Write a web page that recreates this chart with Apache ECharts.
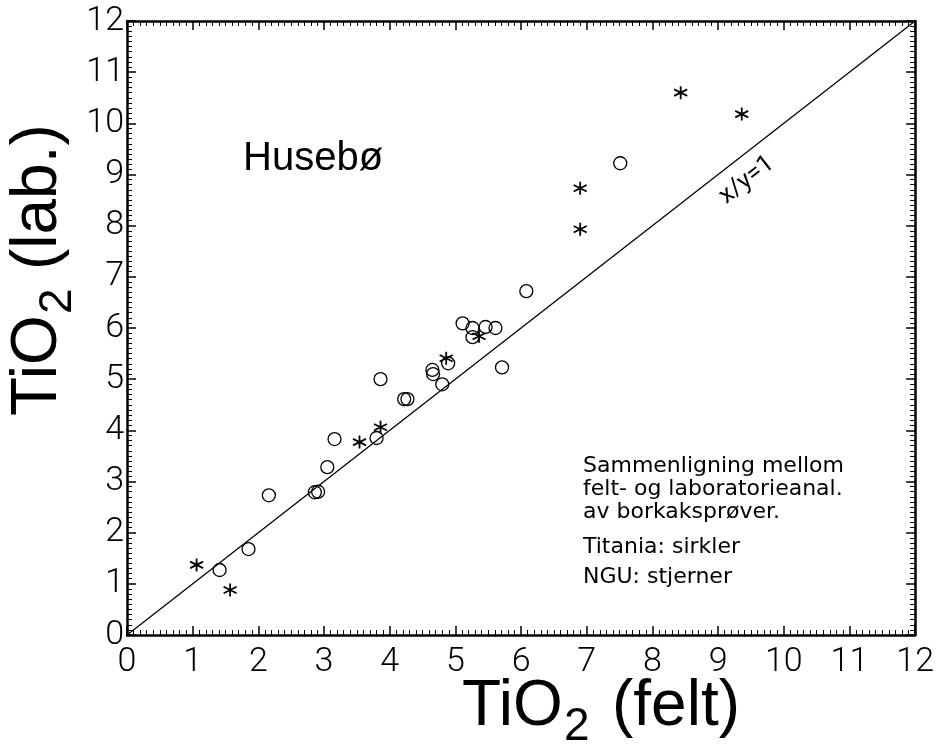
<!DOCTYPE html>
<html lang="no">
<head>
<meta charset="UTF-8">
<title>TiO2 felt / lab. - Husebø</title>
<script src="https://cdn.jsdelivr.net/npm/echarts@6/dist/echarts.min.js"></script>
<style>
  html, body { margin: 0; padding: 0; background: #fff; }
  #chart { width: 937px; height: 747px; }
</style>
</head>
<body>
<div id="chart"></div>
<script>
// Titania (sirkler): [felt, lab.]
var titania = [
  [1.41, 1.27], [1.85, 1.68], [2.16, 2.73], [2.86, 2.79], [2.91, 2.80],
  [3.05, 3.28], [3.16, 3.83], [3.80, 3.85], [3.86, 5.00], [4.22, 4.61],
  [4.27, 4.61], [4.65, 5.18], [4.66, 5.10], [4.80, 4.90], [4.89, 5.31],
  [5.11, 6.09], [5.26, 6.00], [5.26, 5.82], [5.46, 6.02], [5.61, 6.00],
  [5.71, 5.23], [6.08, 6.72], [7.51, 9.22]
];
// NGU (stjerner)
var ngu = [
  [1.06, 1.37], [1.57, 0.88], [3.54, 3.77], [3.86, 4.06], [4.86, 5.41],
  [5.36, 5.84], [6.90, 7.93], [6.90, 8.73], [8.43, 10.60], [9.36, 10.18]
];
// linja x/y=1
var refLine = [[0, 0], [12, 12]];
var refLabelPos = [[9.44, 8.89]];
var notes = [
  'Sammenligning mellom',
  'felt- og laboratorieanal.',
  'av borkaksprøver.',
  'Titania: sirkler',
  'NGU: stjerner'
];

var chart = echarts.init(document.getElementById('chart'));

var tickFont = { fontFamily: 'Roboto', fontWeight: 300, fontSize: 34, color: '#000' };
var star = 'path://M0,-1L0,1M-0.87,-0.5L0.87,0.5M-0.87,0.5L0.87,-0.5';

function frameAxis(pos, showLabel) {
  return {
    type: 'value', min: 0, max: 12, interval: 1, position: pos,
    axisLine: { show: true, onZero: false, lineStyle: { color: '#000', width: 2.5 } },
    axisTick: { show: true, inside: true, length: 9, lineStyle: { color: '#000', width: 1.5 } },
    minorTick: { show: true, splitNumber: 10, length: 5, lineStyle: { color: '#000', width: 1 } },
    axisLabel: showLabel ? tickFont : { show: false },
    splitLine: { show: false }
  };
}

var xBottom = frameAxis('bottom', true);
xBottom.axisLabel = Object.assign({ margin: 10 }, tickFont);
var yLeft = frameAxis('left', true);
yLeft.axisLabel = Object.assign({ margin: 3 }, tickFont);

var noteY = [467, 490, 513, 548, 578];
var noteTexts = notes.map(function (t, i) {
  return {
    type: 'text', left: 583, top: noteY[i] - 12,
    style: { text: t, font: '22px "DejaVu Sans"', fill: '#000' }
  };
});

var option = {
  animation: false,
  backgroundColor: '#fff',
  grid: { left: 127, right: 20, top: 21, bottom: 112 },
  xAxis: [xBottom, frameAxis('top', false)],
  yAxis: [yLeft, frameAxis('right', false)],
  series: [
    {
      name: 'x/y=1', type: 'line', data: refLine, symbol: 'none', silent: true,
      lineStyle: { color: '#000', width: 1.3 }
    },
    {
      name: 'Titania', type: 'scatter', data: titania, symbol: 'circle', symbolSize: 13,
      itemStyle: { color: 'rgba(0,0,0,0)', borderColor: '#000', borderWidth: 1.3, opacity: 1 }
    },
    {
      name: 'NGU', type: 'scatter', data: ngu, symbol: star, symbolSize: 13,
      itemStyle: { color: 'rgba(0,0,0,0)', borderColor: '#000', borderWidth: 1.8, opacity: 1 }
    },
    {
      name: 'label', type: 'scatter', data: refLabelPos, symbolSize: 0, silent: true,
      itemStyle: { opacity: 1 },
      label: {
        show: true, position: 'inside', formatter: 'x/y=1', rotate: 38,
        fontFamily: 'Roboto', fontWeight: 400, fontSize: 25, color: '#000'
      }
    }
  ],
  graphic: [
    {
      type: 'text', left: 243, top: 139,
      style: { text: 'Husebø', font: '40px "Liberation Sans"', fill: '#000' }
    },
    {
      type: 'group', x: 462, y: 707,
      children: [
        { type: 'text', x: 0, y: 0, style: { text: 'TiO', font: '64px "Liberation Sans"', fill: '#000', verticalAlign: 'middle' } },
        { type: 'text', x: 102, y: 20, style: { text: '2', font: '46px "Liberation Sans"', fill: '#000', verticalAlign: 'middle' } },
        { type: 'text', x: 150, y: 0, style: { text: '(felt)', font: '64px "Liberation Sans"', fill: '#000', verticalAlign: 'middle' } }
      ]
    },
    {
      type: 'group', x: 38, y: 416, rotation: Math.PI / 2,
      children: [
        { type: 'text', x: 0, y: 0, style: { text: 'TiO', font: '64px "Liberation Sans"', fill: '#000', verticalAlign: 'middle' } },
        { type: 'text', x: 102, y: 20, style: { text: '2', font: '46px "Liberation Sans"', fill: '#000', verticalAlign: 'middle' } },
        { type: 'text', x: 146, y: 0, style: { text: '(lab.)', font: '64px "Liberation Sans"', fill: '#000', verticalAlign: 'middle' } }
      ]
    }
  ].concat(noteTexts)
};

chart.setOption(option);
</script>
</body>
</html>
